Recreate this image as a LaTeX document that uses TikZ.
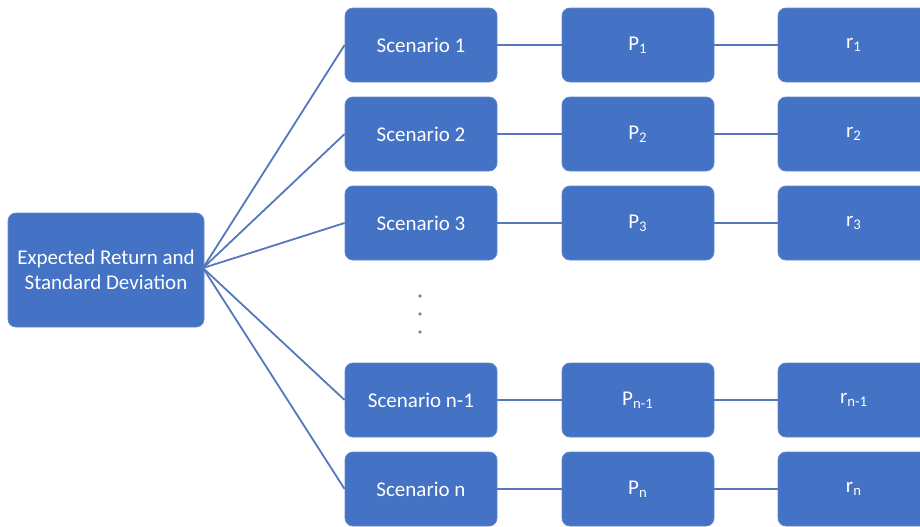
\documentclass[tikz,border=0pt]{standalone}
\usepackage{fontspec}
\setmainfont{Carlito}
\usepackage{tikz}
\usetikzlibrary{positioning}
\definecolor{boxblue}{HTML}{4472C4}
\definecolor{linkblue}{HTML}{5577BE}
\definecolor{dotgray}{HTML}{7A86A8}

\begin{document}
\begin{tikzpicture}[x=0.5pt, y=-0.5pt,
    boxes/.style={draw=boxblue!85!white, line width=0.4pt, fill=boxblue, rounded corners=4pt,
        text=white, minimum width=76pt, minimum height=37pt, inner sep=2pt,
        font=\fontsize{10.5}{12.6}\selectfont},
    links/.style={draw=linkblue, line width=0.9pt}]

        \clip (0,0) rectangle (920,526);

        \node[boxes, minimum width=98pt, minimum height=57pt, align=center] (e) at (106,270)
            {Expected Return and\\Standard Deviation};
        \coordinate (hub) at (203,268);

        \node[boxes] (s1) at (421,45) {Scenario 1};
        \node[boxes] (s2) at (421,134) {Scenario 2};
        \node[boxes] (s3) at (421,223) {Scenario 3};
        \node[boxes] (s4) at (421,400) {Scenario n-1};
        \node[boxes] (s5) at (421,489) {Scenario n};

        \node[boxes] (p1) at (638,45) {P\textsubscript{1}};
        \node[boxes] (p2) at (638,134) {P\textsubscript{2}};
        \node[boxes] (p3) at (638,223) {P\textsubscript{3}};
        \node[boxes] (p4) at (638,400) {P\textsubscript{n-1}};
        \node[boxes] (p5) at (638,489) {P\textsubscript{n}};

        \node[boxes] (r1) at (854,45) {r\textsubscript{1}};
        \node[boxes] (r2) at (854,134) {r\textsubscript{2}};
        \node[boxes] (r3) at (854,223) {r\textsubscript{3}};
        \node[boxes] (r4) at (854,400) {r\textsubscript{n-1}};
        \node[boxes] (r5) at (854,489) {r\textsubscript{n}};

        % dots between rows 3 and n-1
        \foreach \y in {296,314,332} \fill[dotgray] (420,\y) circle (0.9pt);

        \foreach \to in {s1,s2,s3,s4,s5} \draw[links] (hub)--(\to.west);
        \foreach \from/\to in
        {s1/p1,s2/p2,s3/p3,s4/p4,s5/p5,p1/r1,p2/r2,p3/r3,p4/r4,p5/r5} \draw[links] (\from)--(\to);
        \end{tikzpicture}
\end{document}
